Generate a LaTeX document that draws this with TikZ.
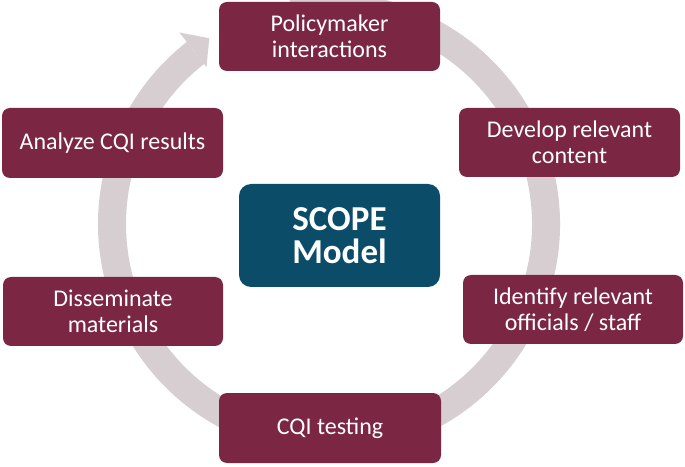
\documentclass[tikz,border=0pt]{standalone}
\usepackage{fontspec}
\setmainfont{Carlito}
\definecolor{maroon}{RGB}{123,38,66}
\definecolor{teal}{RGB}{11,76,104}
\definecolor{ringgray}{RGB}{214,206,208}
\begin{document}
\begin{tikzpicture}[x=1pt,y=1pt,
  stepbox/.style={draw=none, fill=maroon, rounded corners=8pt, text=white,
    align=center, inner sep=0pt, minimum width=221pt, minimum height=69pt,
    font=\fontsize{24}{25.5}\selectfont},
  centerbox/.style={draw=none, fill=teal, rounded corners=12pt, text=white,
    align=center, inner sep=0pt, minimum width=201pt, minimum height=103pt,
    font=\fontsize{35}{33}\selectfont\bfseries}]
\useasboundingbox (0,0) rectangle (685,466);
\coordinate (c) at (329,242);
% ring
\draw[line width=28pt, ringgray] ([shift={(100:217pt)}]c) arc[start angle=100, end angle=-232, radius=217pt];
\fill[ringgray] ([shift={(128:243pt)}]c) -- ([shift={(122.8:221pt)}]c) -- ([shift={(128:199pt)}]c) -- cycle;
% boxes
\node[stepbox] (pol) at (329.5,429.5) {Policymaker\\interactions};
\node[stepbox] (dev) at (569.5,323.5) {Develop relevant\\content};
\node[stepbox, minimum width=220pt] (ide) at (573,156.5) {Identify relevant\\officials / staff};
\node[stepbox, minimum width=222pt, minimum height=70pt] (cqi) at (330,38) {CQI testing};
\node[stepbox, minimum width=220pt] (dis) at (113,154.5) {Disseminate\\materials};
\node[stepbox, minimum height=70pt] (ana) at (112.5,323) {Analyze CQI results};
\node[centerbox] (scope) at (339.5,230.5) {SCOPE\\Model};
\end{tikzpicture}
\end{document}
